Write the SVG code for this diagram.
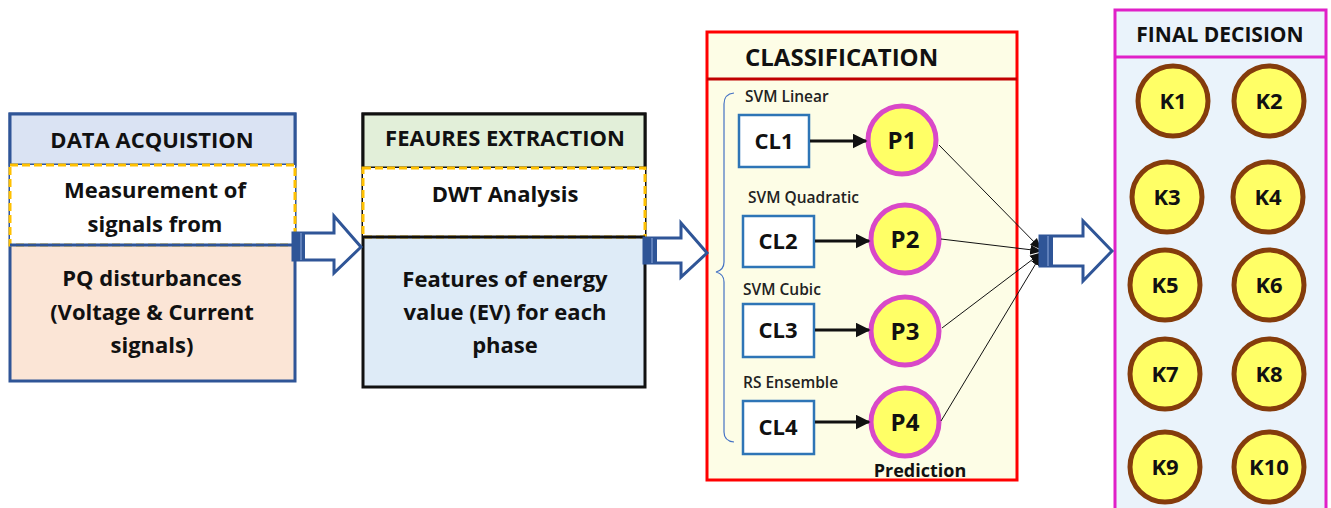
<svg xmlns="http://www.w3.org/2000/svg" width="1331" height="508" viewBox="0 0 1331 508">
<defs>
<style>
text{font-family:"Open Sans","Liberation Sans",sans-serif;font-weight:bold;fill:#111}
.c{text-anchor:middle}
.body{font-size:22px}
.hdr{font-size:22px}
.lbl{font-size:15.5px;font-weight:600;fill:#222}
.cl{font-size:22px}
.p{font-size:24px}
.k{font-size:22px}
.clbox{fill:#fff;stroke:#2e75b6;stroke-width:2.5}
.pc{fill:#ffff66;stroke:#d948c8;stroke-width:5}
.kc{fill:#ffff66;stroke:#843c0c;stroke-width:5}
.dash{fill:#fff;stroke:#ffc000;stroke-width:3;stroke-dasharray:8 4}
.blk{fill:#fff;stroke:#2f5597;stroke-width:3;stroke-linejoin:miter}
.thin{stroke:#111;stroke-width:1;fill:none}
.thick{stroke:#111;stroke-width:3;fill:none}
</style>
<marker id="ah" viewBox="0 0 10 10" refX="9" refY="5" markerWidth="5" markerHeight="5" orient="auto" markerUnits="strokeWidth"><path d="M0,0L10,5L0,10z" fill="#111"/></marker>
<marker id="ah2" viewBox="0 0 10 10" refX="9" refY="5" markerWidth="12" markerHeight="12" orient="auto" markerUnits="strokeWidth"><path d="M0,1L10,5L0,9z" fill="#111"/></marker>
</defs>

<g id="data-acquisition">
<rect x="10" y="114" width="285" height="267" fill="#fbe5d6" stroke="#2f5597" stroke-width="3"/>
<rect x="10" y="114" width="285" height="51" fill="#dae3f3" stroke="#2f5597" stroke-width="3"/>
<rect x="10" y="165" width="285" height="80" class="dash"/>
<line x1="10" y1="245" x2="295" y2="245" stroke="#2f5597" stroke-width="3"/>
<text x="152" y="148" class="c hdr">DATA ACQUISTION</text>
<text x="155" y="198" class="c body">Measurement of</text>
<text x="155" y="232" class="c body">signals from</text>
<text x="152" y="286" class="c body">PQ disturbances</text>
<text x="152" y="320" class="c body">(Voltage &amp; Current</text>
<text x="152" y="353" class="c body">signals)</text>
</g>

<g id="features-extraction">
<rect x="363" y="114" width="282" height="273" fill="#deebf7" stroke="#111" stroke-width="3"/>
<rect x="363" y="114" width="282" height="54" fill="#e2efd9" stroke="#111" stroke-width="3"/>
<rect x="363" y="168" width="282" height="69" class="dash"/>
<line x1="363" y1="237" x2="645" y2="237" stroke="#111" stroke-width="3"/>
<text x="505" y="146" class="c hdr">FEAURES EXTRACTION</text>
<text x="505" y="202" class="c body">DWT Analysis</text>
<text x="505" y="287" class="c body">Features of energy</text>
<text x="505" y="320" class="c body">value (EV) for each</text>
<text x="505" y="353" class="c body">phase</text>
</g>

<g id="classification">
<rect x="707" y="32" width="310" height="448" fill="#fdfde6" stroke="#ff0000" stroke-width="3"/>
<line x1="707" y1="79" x2="1017" y2="79" stroke="#c00000" stroke-width="3"/>
<text x="745" y="66" style="font-size:24px">CLASSIFICATION</text>
<path d="M734,93 Q724,94 724,104 L724,262 Q724,270 716,272 Q724,274 724,282 L724,432 Q724,441 734,442" fill="none" stroke="#4472c4" stroke-width="1.2"/>
<text x="745" y="102" class="lbl">SVM Linear</text>
<text x="748" y="203" class="lbl">SVM Quadratic</text>
<text x="743" y="295" class="lbl">SVM Cubic</text>
<text x="743" y="388" class="lbl">RS Ensemble</text>
<text x="920" y="477" class="c" style="font-size:18px">Prediction</text>
</g>

<g id="cl1"><rect x="739" y="115" width="70" height="52" class="clbox"/><text x="774" y="149" class="c cl">CL1</text></g>
<g id="cl2"><rect x="743" y="216" width="71" height="51" class="clbox"/><text x="778" y="249" class="c cl">CL2</text></g>
<g id="cl3"><rect x="743" y="304" width="71" height="53" class="clbox"/><text x="778" y="338" class="c cl">CL3</text></g>
<g id="cl4"><rect x="743" y="401" width="71" height="53" class="clbox"/><text x="778" y="435" class="c cl">CL4</text></g>

<g id="p1"><circle cx="902" cy="140" r="34" class="pc"/><text x="902" y="149" class="c p">P1</text></g>
<g id="p2"><circle cx="905" cy="239" r="34" class="pc"/><text x="905" y="248" class="c p">P2</text></g>
<g id="p3"><circle cx="905" cy="331" r="34" class="pc"/><text x="905" y="340" class="c p">P3</text></g>
<g id="p4"><circle cx="905" cy="422" r="34" class="pc"/><text x="905" y="431" class="c p">P4</text></g>

<g id="final-decision">
<rect x="1115" y="10" width="211" height="510" fill="#eaf3fb" stroke="#e020c8" stroke-width="3"/>
<line x1="1115" y1="57" x2="1326" y2="57" stroke="#e020c8" stroke-width="3"/>
<text x="1220" y="42" class="c" style="font-size:21px">FINAL DECISION</text>
</g>
<g id="k1"><circle cx="1173" cy="101" r="35" class="kc"/><text x="1173" y="109" class="c k">K1</text></g>
<g id="k2"><circle cx="1269" cy="101" r="35" class="kc"/><text x="1269" y="109" class="c k">K2</text></g>
<g id="k3"><circle cx="1167" cy="197" r="35" class="kc"/><text x="1167" y="205" class="c k">K3</text></g>
<g id="k4"><circle cx="1268" cy="197" r="35" class="kc"/><text x="1268" y="205" class="c k">K4</text></g>
<g id="k5"><circle cx="1165" cy="285" r="35" class="kc"/><text x="1165" y="293" class="c k">K5</text></g>
<g id="k6"><circle cx="1269" cy="285" r="35" class="kc"/><text x="1269" y="293" class="c k">K6</text></g>
<g id="k7"><circle cx="1165" cy="374" r="35" class="kc"/><text x="1165" y="382" class="c k">K7</text></g>
<g id="k8"><circle cx="1269" cy="374" r="35" class="kc"/><text x="1269" y="382" class="c k">K8</text></g>
<g id="k9"><circle cx="1165" cy="467" r="35" class="kc"/><text x="1165" y="475" class="c k">K9</text></g>
<g id="k10"><circle cx="1269" cy="467" r="35" class="kc"/><text x="1269" y="475" class="c k">K10</text></g>

<g id="connectors">
<line x1="810" y1="141" x2="866" y2="141" class="thick" marker-end="url(#ah)"/>
<line x1="815" y1="241" x2="869" y2="241" class="thick" marker-end="url(#ah)"/>
<line x1="815" y1="330" x2="869" y2="330" class="thick" marker-end="url(#ah)"/>
<line x1="815" y1="422" x2="869" y2="422" class="thick" marker-end="url(#ah)"/>
<line x1="939" y1="145" x2="1041" y2="249" class="thin" marker-end="url(#ah2)"/>
<line x1="941" y1="239" x2="1041" y2="251" class="thin" marker-end="url(#ah2)"/>
<line x1="942" y1="328" x2="1041" y2="253" class="thin" marker-end="url(#ah2)"/>
<line x1="941" y1="421" x2="1041" y2="255" class="thin" marker-end="url(#ah2)"/>
<g id="block-arrow-1">
<path d="M293,233 L334,233 L334,216 L361,247 L334,273 L334,260 L293,260 Z" class="blk"/>
<rect x="292" y="232" width="13" height="29" fill="#2f5597"/>
<line x1="301" y1="233" x2="301" y2="260" stroke="#8faadc" stroke-width="1"/>
</g>
<g id="block-arrow-2">
<path d="M644,238 L681,238 L681,223 L707,253 L681,277 L681,263 L644,263 Z" class="blk"/>
<rect x="643" y="237" width="14" height="27" fill="#2f5597"/>
<line x1="652" y1="238" x2="652" y2="263" stroke="#8faadc" stroke-width="1"/>
</g>
<g id="block-arrow-3">
<path d="M1040,236 L1083,236 L1083,221 L1112,251 L1083,281 L1083,266 L1040,266 Z" class="blk"/>
<rect x="1039" y="235" width="14" height="32" fill="#2f5597"/>
<line x1="1048" y1="236" x2="1048" y2="266" stroke="#8faadc" stroke-width="1"/>
</g>
</g>
</svg>
